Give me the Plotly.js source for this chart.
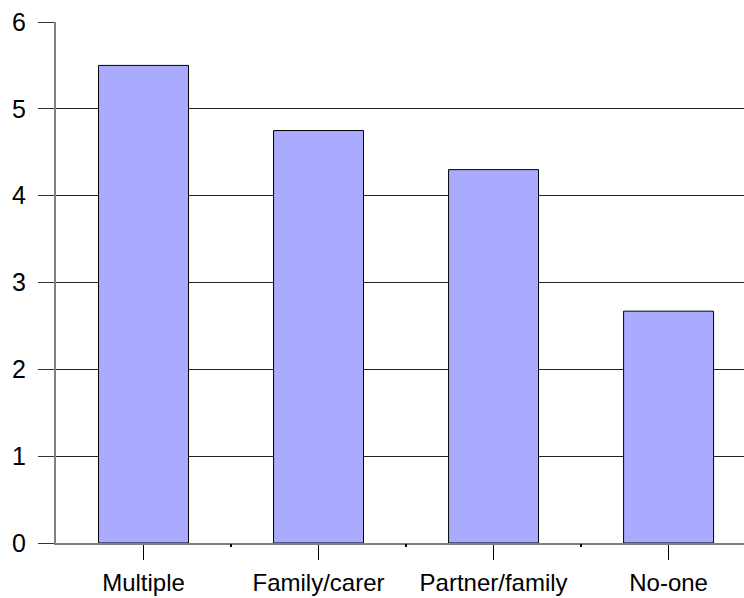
<!DOCTYPE html>
<html>
<head>
<meta charset="utf-8">
<script src="https://cdn.plot.ly/plotly-3.0.1.min.js"></script>
<style>html,body{margin:0;padding:0;background:#fff;}#chart{width:744px;height:598px;}</style>
</head>
<body>
<div id="chart"></div>
<script>
var categories = ["Multiple", "Family/carer", "Partner/family", "No-one"];
var values = [5.5, 4.75, 4.3, 2.67];
var yTicks = [0, 1, 2, 3, 4, 5, 6];
var boundaryTicks = [0.5, 1.5, 2.5];

var xRange = [-0.5, 3.431];

var trace = {
  type: 'bar',
  x: categories,
  y: values,
  marker: {color: '#AAAAFF', line: {color: '#000000', width: 1}},
  hoverinfo: 'none'
};

var boundaryAxisTrace = {
  type: 'scatter', mode: 'markers',
  x: [], y: [],
  xaxis: 'x2', yaxis: 'y',
  hoverinfo: 'none', showlegend: false
};

var layout = {
  width: 744, height: 598,
  margin: {l: 56, r: 0, t: 22, b: 55, pad: 0},
  paper_bgcolor: '#ffffff', plot_bgcolor: '#ffffff',
  showlegend: false,
  bargap: 0.486,
  font: {family: 'Liberation Sans, Arial, sans-serif', size: 24, color: '#000'},
  xaxis: {
    type: 'category', range: xRange,
    showline: true, linecolor: '#808080', linewidth: 2,
    ticks: 'outside', ticklen: 15, tickcolor: '#000', tickwidth: 1,
    showgrid: false, zeroline: false,
    tickfont: {size: 24, family: 'Liberation Sans, Arial, sans-serif'},
    ticklabelstandoff: 2
  },
  xaxis2: {
    overlaying: 'x', anchor: 'y', side: 'bottom', type: 'linear',
    range: xRange, tickvals: boundaryTicks,
    ticks: 'outside', ticklen: 3, tickcolor: '#000', tickwidth: 2,
    showticklabels: false, showgrid: false, zeroline: false, showline: false
  },
  yaxis: {
    range: [0, 6], tickvals: yTicks,
    showline: true, linecolor: '#808080', linewidth: 2,
    ticks: 'outside', ticklen: 16, tickcolor: '#333', tickwidth: 1,
    showgrid: true, gridcolor: '#222', gridwidth: 1,
    zeroline: false,
    tickfont: {size: 25, family: 'Liberation Sans, Arial, sans-serif'},
    ticklabelstandoff: 7
  }
};

Plotly.newPlot('chart', [trace, boundaryAxisTrace], layout, {displayModeBar: false, staticPlot: true});
</script>
</body>
</html>
